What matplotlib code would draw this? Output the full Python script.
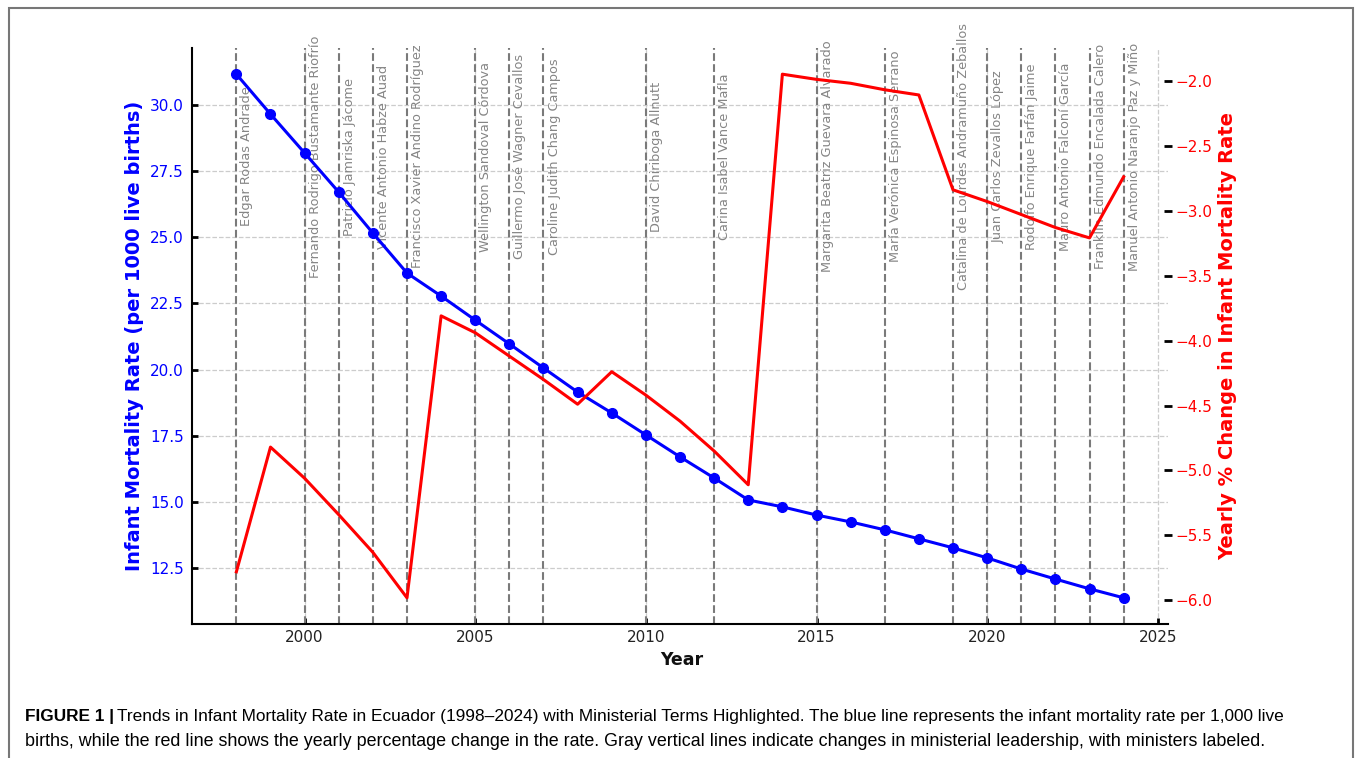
import matplotlib
matplotlib.use("Agg")
import matplotlib.pyplot as plt
from matplotlib.patches import Rectangle
from matplotlib.ticker import FuncFormatter

years = list(range(1998, 2025))
mortality_rate = [31.17, 29.66, 28.19, 26.71, 25.16, 23.65, 22.78, 21.87, 20.97, 20.06,
                  19.15, 18.36, 17.53, 16.70, 15.90, 15.07, 14.81, 14.50, 14.24, 13.94,
                  13.60, 13.26, 12.88, 12.46, 12.08, 11.71, 11.37]
pct_change = [-5.78, -4.82, -5.06, -5.34, -5.63, -5.98, -3.81, -3.94, -4.12, -4.30,
              -4.49, -4.24, -4.42, -4.62, -4.85, -5.11, -1.95, -1.99, -2.02, -2.07,
              -2.11, -2.84, -2.93, -3.03, -3.13, -3.21, -2.74]
minister_years = [1998, 2000, 2001, 2002, 2003, 2005, 2006, 2007, 2010, 2012, 2015,
                  2017, 2019, 2020, 2021, 2022, 2023, 2024]
minister_names = [
    "Edgar Rodas Andrade",
    "Fernando Rodrigo Bustamante Riofrío",
    "Patricio Jamriska Jácome",
    "Vicente Antonio Habze Auad",
    "Francisco Xavier Andino Rodríguez",
    "Wellington Sandoval Córdova",
    "Guillermo José Wagner Cevallos",
    "Caroline Judith Chang Campos",
    "David Chiriboga Allnutt",
    "Carina Isabel Vance Mafla",
    "Margarita Beatriz Guevara Alvarado",
    "María Verónica Espinosa Serrano",
    "Catalina de Lourdes Andramuño Zeballos",
    "Juan Carlos Zevallos López",
    "Rodolfo Enrique Farfán Jaime",
    "Mauro Antonio Falconí García",
    "Franklin Edmundo Encalada Calero",
    "Manuel Antonio Naranjo Paz y Miño",
]
x_ticks = [2000, 2005, 2010, 2015, 2020, 2025]
left_ticks = [12.5, 15.0, 17.5, 20.0, 22.5, 25.0, 27.5, 30.0]
right_ticks = [-6.0, -5.5, -5.0, -4.5, -4.0, -3.5, -3.0, -2.5, -2.0]
left_label = "Infant Mortality Rate (per 1000 live births)"
right_label = "Yearly % Change in Infant Mortality Rate"
x_label = "Year"
caption_bold = "FIGURE 1 |"
caption_line1 = ("Trends in Infant Mortality Rate in Ecuador (1998–2024) with Ministerial Terms "
                 "Highlighted. The blue line represents the infant mortality rate per 1,000 live")
caption_line2 = ("births, while the red line shows the yearly percentage change in the rate. Gray "
                 "vertical lines indicate changes in ministerial leadership, with ministers labeled.")

W, H = 1357, 758
fig = plt.figure(figsize=(W / 100, H / 100), dpi=100)
fig.patch.set_facecolor("white")

ax = fig.add_axes([192 / W, 1 - 624 / H, (1168 - 192) / W, (624 - 48) / H])
ax2 = ax.twinx()

ax.grid(True, linestyle="--", color="#cccccc", linewidth=0.9)
ax.set_axisbelow(True)

label_y = max(mortality_rate) * 0.9
for yr, name in zip(minister_years, minister_names):
    ax.axvline(yr, color="#7a7a7a", linestyle="--", linewidth=1.5, zorder=1)
    ax.text(yr + 0.12, label_y, name, rotation=90, va="center", ha="left",
            color="#858585", fontsize=9.3, zorder=2)

ax.plot(years, mortality_rate, color="blue", marker="o", markersize=7,
        linewidth=2.2, zorder=3)
ax2.plot(years, pct_change, color="red", linewidth=2.2, zorder=3)

for a in (ax, ax2):
    for s in ("top", "right"):
        a.spines[s].set_visible(False)
ax2.spines["left"].set_visible(False)
ax2.spines["bottom"].set_visible(False)
ax.spines["left"].set_linewidth(1.5)
ax.spines["bottom"].set_linewidth(1.5)

minus_fmt = FuncFormatter(lambda v, p: f"{v:.1f}".replace("-", "\u2212"))
ax.set_xticks(x_ticks)
ax.tick_params(axis="x", direction="in", length=4, width=2, labelsize=11,
               colors="black", labelcolor="#222222", pad=4)
ax.tick_params(axis="y", direction="in", length=4, width=2, labelsize=11,
               colors="black", labelcolor="blue", pad=6)
ax2.tick_params(axis="y", direction="inout", length=6, width=2, labelsize=11,
                colors="black", labelcolor="red", pad=2.5)
ax.set_yticks(left_ticks)
ax2.set_yticks(right_ticks)
ax.yaxis.set_major_formatter(minus_fmt)
ax2.yaxis.set_major_formatter(minus_fmt)

ax.set_xlabel(x_label, fontsize=12.5, fontweight="bold", color="#111111")
ax.set_ylabel(left_label, fontsize=14, fontweight="bold", color="blue", labelpad=4.5)
ax2.set_ylabel(right_label, fontsize=14, fontweight="bold", color="red", labelpad=4)
ax.xaxis.set_label_coords((682 - 192) / (1168 - 192), -(651 - 624) / (624 - 48))

fig.patches.append(Rectangle((9 / W, -0.05), (1353 - 9) / W, 1 - 8 / H + 0.05,
                             transform=fig.transFigure, fill=False,
                             edgecolor="#777777", linewidth=1.5))

cap_font = ["Liberation Sans", "DejaVu Sans"]
renderer = fig.canvas.get_renderer()
t1 = fig.text(25 / W, 1 - 716 / H, caption_bold, fontsize=12.4, fontweight="bold",
              family=cap_font, va="center", ha="left")
bb = t1.get_window_extent(renderer=renderer)
fig.text((bb.x1 + 3) / W, 1 - 716 / H, caption_line1, fontsize=12.4,
         family=cap_font, va="center", ha="left")
fig.text(25 / W, 1 - 741 / H, caption_line2, fontsize=12.9,
         family=cap_font, va="center", ha="left")

fig.savefig("out.png", dpi=100)
